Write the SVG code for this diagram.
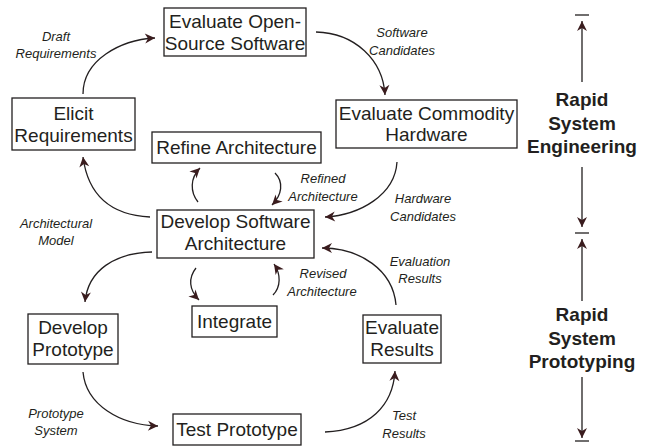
<svg xmlns="http://www.w3.org/2000/svg" width="653" height="446" viewBox="0 0 653 446">
<defs>
<marker id="ah" markerUnits="userSpaceOnUse" markerWidth="14" markerHeight="14" viewBox="-12 -7 14 14" refX="0" refY="0" orient="auto">
<path d="M0,0 L-10,-5 L-7,0 L-10,5 Z" fill="#3a1c1e"/>
</marker>
</defs>
<style>
.box{fill:#fff;stroke:#231f20;stroke-width:1.3}
.nt{font-family:"Liberation Sans",Arial,sans-serif;font-size:19px;fill:#231f20;text-anchor:middle}
.lb{font-family:"Liberation Sans",Arial,sans-serif;font-size:13px;font-style:italic;fill:#231f20;text-anchor:middle}
.bd{font-family:"Liberation Sans",Arial,sans-serif;font-size:19px;font-weight:bold;fill:#231f20;text-anchor:middle}
.c{fill:none;stroke:#231f20;stroke-width:1.3;marker-end:url(#ah)}
.t{stroke:#231f20;stroke-width:1.3}
</style>
<rect width="653" height="446" fill="#fff"/>
<g id="connectors">
<path class="c" d="M83,94 C83,60 120,40 155,38"/>
<path class="c" d="M316,32 C355,33 383,60 385,95"/>
<path class="c" d="M397,162 C395,195 360,215 325,217"/>
<path class="c" d="M396,305 C393,270 360,248 322,248"/>
<path class="c" d="M325,432 C370,430 393,405 395,371"/>
<path class="c" d="M83,372 C86,405 120,425 158,426"/>
<path class="c" d="M152,252 C115,253 88,270 85,302"/>
<path class="c" d="M150,217 C110,215 88,195 83,157"/>
<path class="c" d="M198,202 C190,192 190,178 200,168"/>
<path class="c" d="M275,173 C284,182 282,195 272,205"/>
<path class="c" d="M196,268 C188,278 189,290 199,300"/>
<path class="c" d="M273,295 C281,287 281,274 274,264"/>
<path class="c" d="M582,82 L582,21"/>
<path class="c" d="M582,167 L582,227"/>
<path class="c" d="M582,301 L582,239"/>
<path class="c" d="M582,377 L582,438"/>
<line class="t" x1="575" y1="15" x2="589" y2="15"/>
<line class="t" x1="575" y1="233" x2="589" y2="233"/>
<line class="t" x1="575" y1="441" x2="589" y2="441"/>
</g>
<g id="labels">
<text class="lb" x="56" y="41">Draft</text>
<text class="lb" x="56" y="58">Requirements</text>
<text class="lb" x="402" y="37">Software</text>
<text class="lb" x="402" y="55">Candidates</text>
<text class="lb" x="323" y="183">Refined</text>
<text class="lb" x="323" y="201">Architecture</text>
<text class="lb" x="423" y="203">Hardware</text>
<text class="lb" x="423" y="221">Candidates</text>
<text class="lb" x="56" y="228">Architectural</text>
<text class="lb" x="56" y="245">Model</text>
<text class="lb" x="420" y="266">Evaluation</text>
<text class="lb" x="420" y="283">Results</text>
<text class="lb" x="323" y="278">Revised</text>
<text class="lb" x="322" y="296">Architecture</text>
<text class="lb" x="404" y="420">Test</text>
<text class="lb" x="404" y="438">Results</text>
<text class="lb" x="56" y="418">Prototype</text>
<text class="lb" x="56" y="435">System</text>
<text class="bd" x="582" y="106">Rapid</text>
<text class="bd" x="582" y="130">System</text>
<text class="bd" x="582" y="153">Engineering</text>
<text class="bd" x="582" y="321">Rapid</text>
<text class="bd" x="582" y="345">System</text>
<text class="bd" x="582" y="368">Prototyping</text>
</g>
<g id="evaluate-oss">
<rect class="box" x="164" y="8" width="142" height="48"/>
<text class="nt" x="235" y="28">Evaluate Open-</text>
<text class="nt" x="235" y="50">Source Software</text>
</g>
<g id="elicit-requirements">
<rect class="box" x="12" y="98" width="123" height="52"/>
<text class="nt" x="73.5" y="120">Elicit</text>
<text class="nt" x="73.5" y="142">Requirements</text>
</g>
<g id="evaluate-hardware">
<rect class="box" x="336" y="100" width="181" height="48"/>
<text class="nt" x="426.5" y="120">Evaluate Commodity</text>
<text class="nt" x="426.5" y="141">Hardware</text>
</g>
<g id="refine-architecture">
<rect class="box" x="152" y="132" width="169" height="31"/>
<text class="nt" x="236.5" y="154">Refine Architecture</text>
</g>
<g id="develop-architecture">
<rect class="box" x="157" y="210" width="157" height="48"/>
<text class="nt" x="235.5" y="228">Develop Software</text>
<text class="nt" x="235.5" y="250">Architecture</text>
</g>
<g id="integrate">
<rect class="box" x="192" y="306" width="85" height="31"/>
<text class="nt" x="234.5" y="328">Integrate</text>
</g>
<g id="develop-prototype">
<rect class="box" x="28" y="314" width="90" height="50"/>
<text class="nt" x="73" y="334">Develop</text>
<text class="nt" x="73" y="356">Prototype</text>
</g>
<g id="evaluate-results">
<rect class="box" x="363" y="315" width="78" height="48"/>
<text class="nt" x="402" y="334">Evaluate</text>
<text class="nt" x="402" y="356">Results</text>
</g>
<g id="test-prototype">
<rect class="box" x="173" y="414" width="128" height="31"/>
<text class="nt" x="237" y="436">Test Prototype</text>
</g>
</svg>
